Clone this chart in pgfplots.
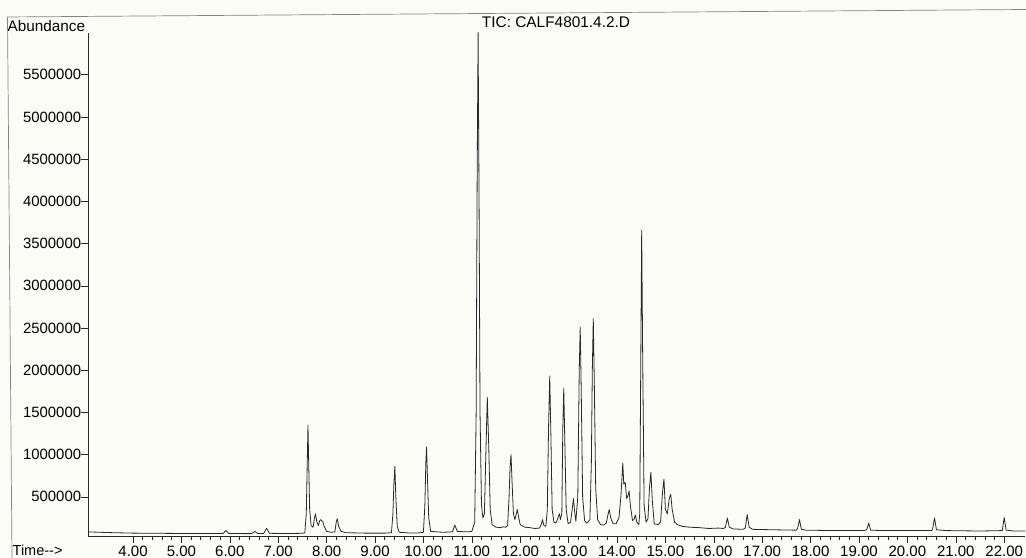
\documentclass[border=0pt]{standalone}
\usepackage{fontspec}
\setmainfont{Liberation Sans}
\usepackage{pgfplots}
\pgfplotsset{compat=1.18}
\usepackage{pgfplotstable}
\definecolor{paper}{RGB}{252,252,247}
\definecolor{ink}{RGB}{40,40,40}
\definecolor{frame}{RGB}{130,130,130}
\pgfplotstableread{
t v
3.07 85000
3.3 80000
3.6 75000
4.0 70000
4.5 68000
5.0 66000
5.5 65000
5.86 65000
5.92 100000
5.98 65000
6.45 64000
6.52 90000
6.58 64000
6.70 66000
6.76 127000
6.82 68000
7.0 66000
7.3 66000
7.5 68000
7.55 75000
7.58 300000
7.60 900000
7.615 1350000
7.63 900000
7.65 350000
7.68 160000
7.72 140000
7.75 250000
7.77 300000
7.80 200000
7.83 160000
7.86 220000
7.88 230000
7.90 215000
7.92 210000
7.95 150000
8.0 90000
8.1 80000
8.17 85000
8.20 200000
8.22 240000
8.25 150000
8.3 90000
8.4 75000
8.8 70000
9.2 70000
9.34 75000
9.37 300000
9.39 650000
9.41 860000
9.43 500000
9.46 150000
9.5 80000
9.7 72000
9.9 72000
10.0 80000
10.03 400000
10.05 900000
10.065 1090000
10.08 800000
10.11 250000
10.15 90000
10.4 80000
10.6 85000
10.65 165000
10.7 90000
10.9 85000
11.0 90000
11.06 200000
11.09 1500000
11.11 4200000
11.13 6000000
11.15 4000000
11.17 1500000
11.20 400000
11.23 250000
11.26 300000
11.29 1000000
11.32 1680000
11.35 1100000
11.38 350000
11.42 170000
11.5 140000
11.6 135000
11.65 145000
11.7 140000
11.74 160000
11.77 500000
11.79 850000
11.81 1000000
11.83 700000
11.86 300000
11.89 230000
11.92 300000
11.94 350000
11.97 250000
12.0 170000
12.1 140000
12.2 135000
12.3 125000
12.4 130000
12.44 180000
12.46 230000
12.49 160000
12.53 150000
12.56 350000
12.585 1300000
12.61 1930000
12.635 1200000
12.66 350000
12.70 190000
12.75 200000
12.79 270000
12.81 300000
12.83 230000
12.86 300000
12.88 1300000
12.90 1785000
12.92 1200000
12.95 350000
12.99 180000
13.04 200000
13.08 380000
13.10 480000
13.12 350000
13.15 210000
13.19 500000
13.22 2000000
13.24 2510000
13.26 1800000
13.29 500000
13.33 220000
13.37 190000
13.40 200000
13.44 230000
13.47 900000
13.49 2000000
13.51 2610000
13.53 1900000
13.56 600000
13.60 230000
13.66 170000
13.72 165000
13.78 190000
13.81 280000
13.84 350000
13.87 250000
13.92 180000
13.98 180000
14.04 250000
14.08 500000
14.12 900000
14.14 650000
14.17 670000
14.20 480000
14.23 520000
14.25 570000
14.28 380000
14.32 220000
14.35 230000
14.38 285000
14.41 200000
14.45 170000
14.47 300000
14.49 2000000
14.51 3660000
14.53 2200000
14.56 400000
14.60 200000
14.64 240000
14.67 600000
14.70 790000
14.73 450000
14.77 180000
14.85 170000
14.90 200000
14.94 550000
14.97 710000
15.00 350000
15.04 300000
15.08 480000
15.11 530000
15.14 350000
15.19 200000
15.25 170000
15.35 150000
15.5 140000
15.7 135000
15.9 125000
16.1 130000
16.2 125000
16.24 140000
16.28 250000
16.32 140000
16.4 120000
16.6 115000
16.65 130000
16.69 290000
16.73 140000
16.8 115000
17.2 110000
17.7 105000
17.73 120000
17.77 230000
17.81 115000
17.9 105000
18.5 100000
19.1 100000
19.16 110000
19.20 190000
19.24 105000
19.5 100000
20.0 100000
20.5 100000
20.52 115000
20.56 250000
20.60 110000
20.8 100000
21.5 95000
21.96 100000
22.00 255000
22.04 105000
22.2 95000
22.43 95000
}\tic
\begin{document}
\begin{tikzpicture}[font=\fontsize{14.5bp}{17bp}\selectfont]
\fill[paper] (0bp,0bp) rectangle (1026bp,558bp);
\useasboundingbox (0bp,0bp) rectangle (1026bp,558bp);
\draw[frame, line width=0.7bp] (12bp,0bp) -- (7.5bp,541bp) -- (1026bp,548.5bp);
\node[anchor=base west, inner sep=0pt, font=\fontsize{15.3bp}{17bp}\selectfont] at (7.5bp,526.3bp) {Abundance};
\node[anchor=base, inner sep=0pt, font=\fontsize{15.4bp}{17bp}\selectfont] at (556bp,530.7bp) {TIC: CALF4801.4.2.D};
\node[anchor=base west, inner sep=0pt] at (12.5bp,2.2bp) {Time-{}-{}>};
\begin{axis}[
  at={(88bp,21.5bp)}, anchor=south west, scale only axis,
  width=937bp, height=503.9bp,
  xmin=3.07, xmax=22.43, ymin=30000, ymax=6000000,
  axis x line*=bottom, axis y line*=left,
  axis line style={ink, line width=0.7bp},
  tick style={ink, line width=0.6bp},
  tick align=outside,
  major tick length=6.7bp, minor tick length=3.3bp,
  xtick={4,5,...,22},
  xticklabels={4.00,5.00,6.00,7.00,8.00,9.00,10.00,11.00,12.00,13.00,14.00,15.00,16.00,17.00,18.00,19.00,20.00,21.00,22.00},
  minor x tick num=4,
  ytick={500000,1000000,1500000,2000000,2500000,3000000,3500000,4000000,4500000,5000000,5500000},
  yticklabels={500000,1000000,1500000,2000000,2500000,3000000,3500000,4000000,4500000,5000000,5500000},
  scaled y ticks=false,
  xticklabel style={anchor=base, inner sep=0pt, yshift=-13bp, font=\fontsize{15bp}{17bp}\selectfont},
  yticklabel style={anchor=east, inner sep=0pt, font=\fontsize{14.9bp}{17bp}\selectfont},
]
\addplot[ink, line width=0.8bp, line join=round] table[x=t, y=v] {\tic};
\end{axis}
\end{tikzpicture}
\end{document}
